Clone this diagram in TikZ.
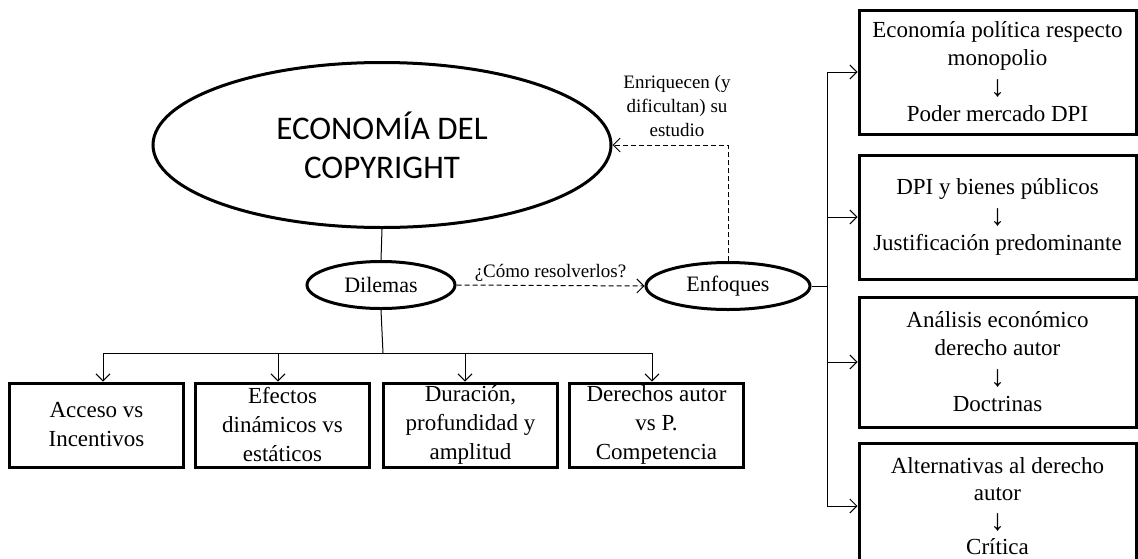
\documentclass[tikz,border=0pt]{standalone}
\usepackage{fontspec}
\setmainfont{Liberation Serif}
\newfontfamily\titlefont{Carlito}
\newcommand\darr{\raisebox{-3pt}{\fontsize{30}{28}\selectfont ↓}}
\usetikzlibrary{arrows.meta,shapes.geometric}
\begin{document}
\begin{tikzpicture}[x=1pt,y=-1pt,
  oval/.style={draw,ellipse,line width=3pt,inner sep=0pt,font=\fontsize{22}{26}\selectfont},
  boxr/.style={draw,rectangle,line width=3pt,align=center,inner sep=0pt,minimum width=277pt,font=\fontsize{23}{28}\selectfont},
  boxb/.style={draw,rectangle,line width=3pt,align=center,inner sep=0pt,minimum width=174pt,minimum height=84pt,font=\fontsize{23}{29}\selectfont},
  conn/.style={line width=1pt,-{Straight Barb[length=7pt,width=14pt]}},
  dconn/.style={conn,dash pattern=on 5pt off 3pt},
  lbl/.style={align=center,font=\fontsize{19}{24}\selectfont,inner sep=0pt}]
\useasboundingbox (0,0) rectangle (1138,558);
\clip (0,0) rectangle (1138,558);
\fill[white] (0,0) rectangle (1138,558);

\node[oval,minimum width=458pt,minimum height=165pt,align=center,font=\titlefont\fontsize{33}{39}\selectfont] (eco) at (382,145) {ECONOMÍA DEL\\COPYRIGHT};
\node[oval,minimum width=148pt,minimum height=47pt] (dil) at (381,285) {Dilemas};
\node[oval,minimum width=164pt,minimum height=47pt] (enf) at (728,286) {Enfoques};

% right boxes
\node[boxr,minimum height=124pt] (r1) at (997.5,72) {Economía política respecto\\monopolio\\\darr\\Poder mercado DPI};
\node[boxr,minimum height=124pt] (r2) at (997.5,217) {DPI y bienes públicos\\\darr\\Justificación predominante};
\node[boxr,minimum height=130pt] (r3) at (997.5,362) {Análisis económico\\derecho autor\\\darr\\Doctrinas};
\node[boxr,minimum height=126pt,font=\fontsize{23}{27}\selectfont] (r4) at (997.5,506) {Alternativas al derecho\\autor\\\darr\\Crítica};

% bottom boxes
\node[boxb] (b1) at (96.5,425) {Acceso vs\\Incentivos};
\node[boxb] (b2) at (282.5,425) {Efectos\\dinámicos vs\\estáticos};
\node[boxb] (b3) at (470.5,425) {Duración,\\profundidad y\\amplitud};
\node[boxb] (b4) at (656.5,425) {Derechos autor\\vs P.\\Competencia};

% connectors
\draw[line width=1pt] (eco.south) -- (dil.north);
\coordinate (bus) at (383,353);
\draw[line width=1pt] (dil.south) -- (bus);
\draw[line width=1pt] (bus -| 103,0) -- (bus -| 652,0);
\draw[conn] (bus -| 103,0) -- ([xshift=6.5pt]b1.north);
\draw[conn] (bus -| 278,0) -- ([xshift=-4.5pt]b2.north);
\draw[conn] (bus -| 465,0) -- ([xshift=-5.5pt]b3.north);
\draw[conn] (bus -| 652,0) -- ([xshift=-4.5pt]b4.north);

\draw[dconn] (dil.east) -- node[lbl,above=4pt] {¿Cómo resolverlos?} (enf.west);

\coordinate (tr) at (827,286);
\draw[line width=1pt] (enf.east) -- (tr);
\draw[line width=1pt] (r1.west -| tr) -- (r4.west -| tr);
\draw[conn] (r1.west -| tr) -- (r1.west);
\draw[conn] (r2.west -| tr) -- (r2.west);
\draw[conn] (r3.west -| tr) -- (r3.west);
\draw[conn] (r4.west -| tr) -- (r4.west);

\draw[dconn] (enf.north) |- (eco.east);
\node[lbl] (enr) at (677,106) {Enriquecen (y\\dificultan) su\\estudio};
\end{tikzpicture}
\end{document}
